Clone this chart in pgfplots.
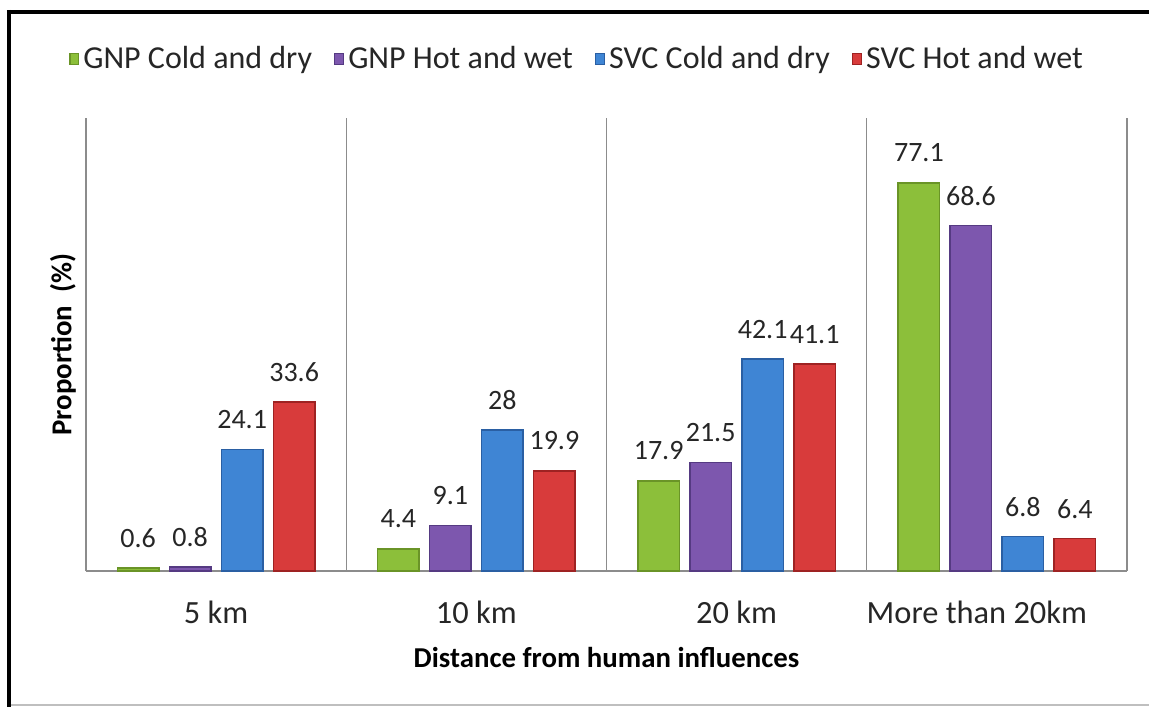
\documentclass[border=0pt]{standalone}
\usepackage{fontspec}
\setmainfont{Carlito}
\usepackage{pgfplots}
\pgfplotsset{compat=1.18}

\definecolor{gnpC}{HTML}{8CBF3A}
\definecolor{gnpCd}{HTML}{6A9427}
\definecolor{gnpH}{HTML}{7D57AE}
\definecolor{gnpHd}{HTML}{553A82}
\definecolor{svcC}{HTML}{3F85D4}
\definecolor{svcCd}{HTML}{2A5FA3}
\definecolor{svcH}{HTML}{D83B3B}
\definecolor{svcHd}{HTML}{9E2222}
\definecolor{sepgray}{HTML}{8C8C8C}

\pgfplotstableread{
x gnpcold gnphot svccold svchot
0 0.6  0.8  24.1 33.6
1 4.4  9.1  28   19.9
2 17.9 21.5 42.1 41.1
3 77.1 68.6 6.8  6.4
}\datatable

\begin{document}
\begin{tikzpicture}
\fill[white] (-43pt,-68pt) rectangle (531.5pt,285.5pt);
\begin{axis}[
  at={(0pt,0pt)}, anchor=south west,
  scale only axis,
  width=520.5pt, height=226.5pt,
  xmin=-0.5, xmax=3.5,
  ymin=0, ymax=90,
  ybar=5.2pt,
  bar width=20.8pt,
  axis x line*=bottom,
  axis y line*=left,
  y axis line style={draw=none},
  x axis line style={sepgray, line width=0.6pt},
  ytick=\empty,
  xtick={0,1,2,3},
  xticklabels={5 km, 10 km, 20 km, More than 20km\hspace*{20pt}},
  major tick length=0pt,
  xticklabel style={anchor=center, yshift=-20.5pt, font=\fontsize{16.2}{19}\selectfont, text=black!85},
  extra x ticks={-0.5,0.5,1.5,2.5,3.5},
  extra x tick labels={},
  extra x tick style={grid=major, major grid style={sepgray, line width=0.6pt}},
  xlabel={\textbf{Distance from human influences}},
  xlabel style={at={(rel axis cs:0.5,-0.19)}, anchor=center, font=\fontsize{14.4}{17}\selectfont},
  ylabel={\textbf{Proportion\ \ (\%)}},
  ylabel style={at={(rel axis cs:-0.0221,0.5)}, anchor=center, font=\fontsize{14.4}{17}\selectfont},
  clip=false,
  nodes near coords={\pgfmathprintnumber[assume math mode=true]{\pgfplotspointmeta}},
  every node near coord/.append style={anchor=center, yshift=15pt, font=\fontsize{14}{17}\selectfont, text=black!85},
  legend columns=4,
  legend style={at={(rel axis cs:0.4726,1.13)}, anchor=center, draw=none, fill=none,
    font=\fontsize{16}{19}\selectfont, text=black!85,
    /tikz/every even column/.append style={column sep=9pt}},
  legend image code/.code={\fill[#1] (0pt,-2.7pt) rectangle (4.4pt,2.7pt);},
]
\addplot[draw=gnpCd, line width=0.7pt, fill=gnpC] table[x=x, y=gnpcold] {\datatable};
\addlegendentry{GNP Cold and dry}
\addplot[draw=gnpHd, line width=0.7pt, fill=gnpH] table[x=x, y=gnphot] {\datatable};
\addlegendentry{GNP Hot and wet}
\addplot[draw=svcCd, line width=0.7pt, fill=svcC] table[x=x, y=svccold] {\datatable};
\addlegendentry{SVC Cold and dry}
\addplot[draw=svcHd, line width=0.7pt, fill=svcH] table[x=x, y=svchot] {\datatable};
\addlegendentry{SVC Hot and wet}
\end{axis}
% image frame
\draw[black, line width=2pt] (-39.5pt,279.5pt) -- (531.5pt,279.5pt);
\draw[black, line width=2pt] (-38.5pt,280.5pt) -- (-38.5pt,-68pt);
\draw[black!25, line width=0.6pt] (-37.5pt,-67pt) -- (531.5pt,-67pt);
\pgfresetboundingbox
\path[use as bounding box] (-43pt,-68pt) rectangle (531.5pt,285.5pt);
\end{tikzpicture}
\end{document}
